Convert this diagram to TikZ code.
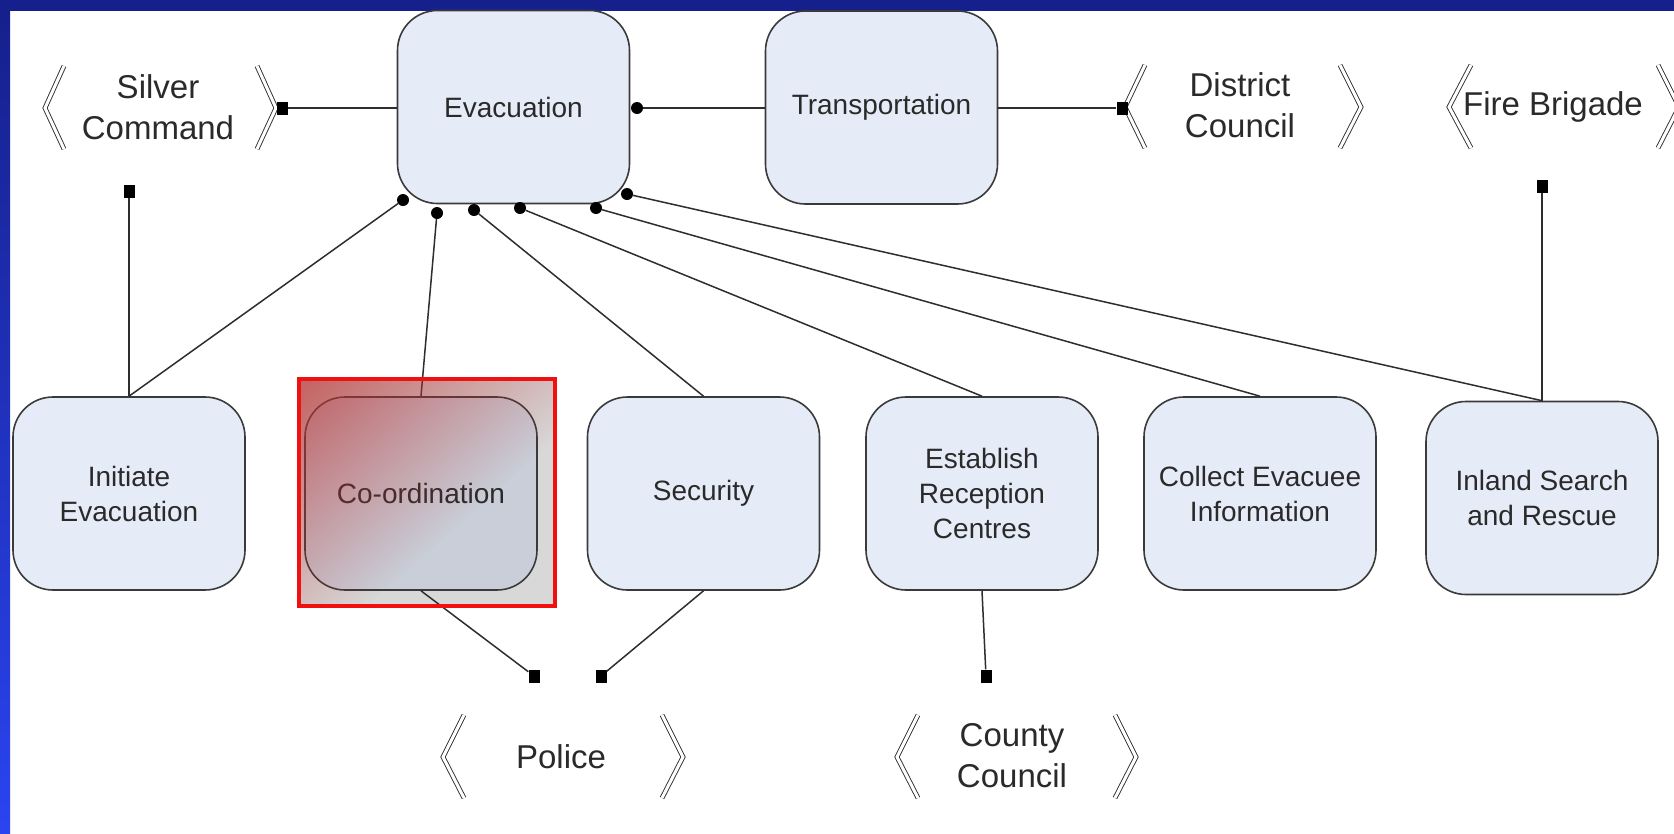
\documentclass[tikz,border=0pt]{standalone}
\usepackage{fontspec}
\setmainfont{Liberation Sans}
\usetikzlibrary{fadings}
\definecolor{navy}{HTML}{16208C}
\definecolor{bblue}{HTML}{2A44F0}
\definecolor{boxfill}{HTML}{E6ECF7}
\definecolor{boxline}{HTML}{3A3A3A}
\definecolor{linec}{HTML}{2E2E2E}
\definecolor{txt}{HTML}{2A2A2A}
\definecolor{framegray}{HTML}{D8D8D8}
\definecolor{coordfill}{HTML}{C9CED8}
\definecolor{redtint}{HTML}{BC3232}
\definecolor{framered}{HTML}{F01010}
\tikzfading[name=diagfade, left color=transparent!0, right color=transparent!100]
\newcommand\boxfont{\fontsize{28}{35}\selectfont}
\newcommand\lblfont{\fontsize{33}{41}\selectfont}
\begin{document}
\begin{tikzpicture}[x=1pt,y=-1pt,
  box/.style={draw=boxline, line width=1.6pt, fill=boxfill, rounded corners=40pt,
    minimum width=232pt, minimum height=193pt, align=center, font=\boxfont, text=txt, inner sep=2pt},
  lbl/.style={align=center, font=\lblfont, text=txt, inner sep=0pt},
  dot/.style={circle, fill=black, inner sep=0pt, minimum size=12pt},
  sq/.style={rectangle, fill=black, inner sep=0pt, minimum width=11pt, minimum height=13pt},
  conn/.style={draw=linec, line width=1.5pt},
  brk/.style={draw=linec, double=white, double distance=3pt, line width=0.9pt}]
\useasboundingbox (0,0) rectangle (1674,833);
\begin{scope}
\clip (0,0) rectangle (1674,833);
\fill[white] (0,0) rectangle (1674,833);
\fill[navy] (0,0) rectangle (1674,11);
\shade[top color=navy, bottom color=bblue] (0,11) rectangle (10,833);

% selection frame background
\fill[framegray] (299,379) rectangle (555,606);

% boxes
\node[box] (evac) at (513.5,107) {Evacuation};
\node[box] (trans) at (881.5,107.5) {Transportation};
\node[box] (init) at (129,493.5) {Initiate\\Evacuation};
\node[box, fill=coordfill] (coord) at (421,493.5) {Co-ordination};
\node[box] (sec) at (703.5,493.5) {Security};
\node[box] (estab) at (982,493.5) {Establish\\Reception\\Centres};
\node[box] (coll) at (1260,493.5) {Collect Evacuee\\Information};
\node[box] (inland) at (1542,498) {Inland Search\\and Rescue};

% external labels
\node[lbl] (silver) at (158,107) {Silver\\Command};
\node[lbl] (district) at (1240,105) {District\\Council};
\node[lbl] (fire) at (1553,107) {Fire Brigade};
\node[lbl] (police) at (561,757) {Police};
\node[lbl] (county) at (1012,756) {County\\Council};

% brackets
\draw[brk] (64,66) -- (45,108) -- (64,149);
\draw[brk] (257,66) -- (276,108) -- (257,149);
\draw[brk] (1145,65) -- (1125,107) -- (1145,148);
\draw[brk] (1340,65) -- (1361,107) -- (1340,148);
\draw[brk] (1471,65) -- (1449,107) -- (1471,148);
\draw[brk] (1658,65) -- (1679,107) -- (1658,148);
\draw[brk] (464,715) -- (443,757) -- (464,798);
\draw[brk] (662,715) -- (683,757) -- (662,798);
\draw[brk] (918,715) -- (897,757) -- (918,798);
\draw[brk] (1115,715) -- (1136,757) -- (1115,798);

% end markers
\node[sq] (sqS) at (282,108) {};
\node[sq] (sqS2) at (129,191) {};
\node[sq] (sqD) at (1122,108) {};
\node[sq] (sqF) at (1542,186) {};
\node[sq] (sqP1) at (534,676) {};
\node[sq] (sqP2) at (601,676) {};
\node[sq] (sqC) at (986,676) {};
\node[dot] (d0) at (637,108) {};
\node[dot] (d1) at (403,200) {};
\node[dot] (d2) at (437,213) {};
\node[dot] (d3) at (474,210) {};
\node[dot] (d4) at (520,208) {};
\node[dot] (d5) at (596,208) {};
\node[dot] (d6) at (627,194) {};

% connectors
\draw[conn] (sqS) -- (sqS -| evac.west);
\draw[conn] (d0) -- (d0 -| trans.west);
\draw[conn] (sqD -| trans.east) -- (sqD);
\draw[conn] (sqS2) -- (init.north);
\draw[conn] (d1) -- (init.north);
\draw[conn] (d2) -- (coord.north);
\draw[conn] (d3) -- (sec.north);
\draw[conn] (d4) -- (estab.north);
\draw[conn] (d5) -- (coll.north);
\draw[conn] (d6) -- (inland.north);
\draw[conn] (sqF) -- (inland.north);
\draw[conn] (coord.south) -- (sqP1);
\draw[conn] (sec.south) -- (sqP2);
\draw[conn] (estab.south) -- (sqC);

% selection highlight
\begin{scope}
\clip (299,379) rectangle (555,606);
\begin{scope}[transform canvas={shift={(342.1,427.7)}, rotate=-48.4}]
\fill[redtint, path fading=diagfade] (-150,-220) rectangle (150,220);
\end{scope}
\end{scope}
\draw[framered, line width=4pt] (299,379) rectangle (555,606);
\end{scope}
\end{tikzpicture}
\end{document}
